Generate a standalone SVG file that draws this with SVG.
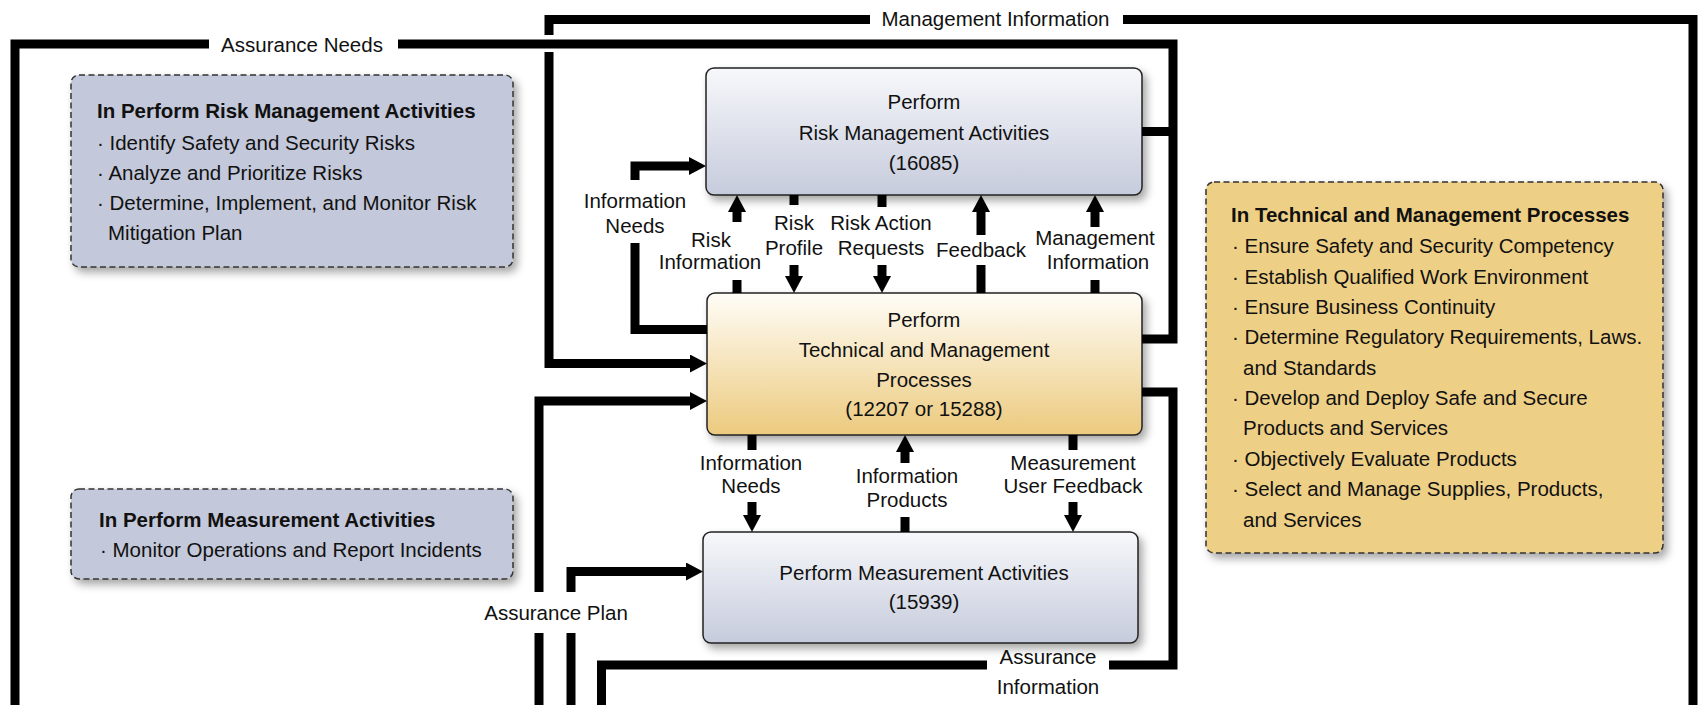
<svg xmlns="http://www.w3.org/2000/svg" width="1702" height="705" viewBox="0 0 1702 705">
<style>
text{font-family:"Liberation Sans",Arial,sans-serif;font-size:20.5px;fill:#111}
.c{text-anchor:middle}
.b{font-weight:bold}
.ln{fill:none;stroke:#000;stroke-width:9;stroke-linejoin:miter;stroke-linecap:butt}
.box{stroke:#222;stroke-width:1.5}
.note{stroke:#333;stroke-width:1.5;stroke-dasharray:6 3.5}
</style>
<defs>
<linearGradient id="gBlue" x1="0" y1="0" x2="0" y2="1">
<stop offset="0" stop-color="#f7f8fb"/>
<stop offset="1" stop-color="#c6cbdc"/>
</linearGradient>
<linearGradient id="gGold" x1="0" y1="0" x2="0" y2="1">
<stop offset="0" stop-color="#fffdf7"/>
<stop offset="1" stop-color="#ecca7e"/>
</linearGradient>
<filter id="sh" x="-10%" y="-10%" width="125%" height="135%">
<feDropShadow dx="4" dy="5" stdDeviation="4" flood-color="#000" flood-opacity="0.35"/>
</filter>
<marker id="ah" markerUnits="userSpaceOnUse" markerWidth="18" markerHeight="18" refX="7" refY="9" orient="auto">
<path d="M0,0 L17,9 L0,18 Z" fill="#000"/>
</marker>
</defs>
<rect width="1702" height="705" fill="#fff"/>

<g id="note-risk">
<rect class="note" x="71" y="75" width="442" height="192" rx="8" fill="#c3c8da" filter="url(#sh)"/>
<text class="b" x="97" y="118">In Perform Risk Management Activities</text>
<text x="97" y="150">· Identify Safety and Security Risks</text>
<text x="97" y="180">· Analyze and Prioritize Risks</text>
<text x="97" y="210">· Determine, Implement, and Monitor Risk</text>
<text x="108" y="240">Mitigation Plan</text>
</g>

<g id="note-meas">
<rect class="note" x="71" y="489" width="442" height="90" rx="8" fill="#c3c8da" filter="url(#sh)"/>
<text class="b" x="99" y="527">In Perform Measurement Activities</text>
<text x="100" y="557">· Monitor Operations and Report Incidents</text>
</g>

<g id="note-tech">
<rect class="note" x="1206" y="182" width="457" height="371" rx="8" fill="#eecf86" filter="url(#sh)"/>
<text class="b" x="1231" y="222">In Technical and Management Processes</text>
<text x="1232" y="253">· Ensure Safety and Security Competency</text>
<text x="1232" y="283.5">· Establish Qualified Work Environment</text>
<text x="1232" y="314">· Ensure Business Continuity</text>
<text x="1232" y="344">· Determine Regulatory Requirements, Laws.</text>
<text x="1243" y="374.5">and Standards</text>
<text x="1232" y="405">· Develop and Deploy Safe and Secure</text>
<text x="1243" y="435">Products and Services</text>
<text x="1232" y="466">· Objectively Evaluate Products</text>
<text x="1232" y="496">· Select and Manage Supplies, Products,</text>
<text x="1243" y="526.5">and Services</text>
</g>

<g id="node-risk">
<rect class="box" x="706" y="68" width="436" height="127" rx="8" fill="url(#gBlue)" filter="url(#sh)"/>
<text class="c" x="924" y="109">Perform</text>
<text class="c" x="924" y="140">Risk Management Activities</text>
<text class="c" x="924" y="170">(16085)</text>
</g>

<g id="node-tech">
<rect class="box" x="707" y="293" width="435" height="142" rx="8" fill="url(#gGold)" filter="url(#sh)"/>
<text class="c" x="924" y="327">Perform</text>
<text class="c" x="924" y="357">Technical and Management</text>
<text class="c" x="924" y="387">Processes</text>
<text class="c" x="924" y="416">(12207 or 15288)</text>
</g>

<g id="node-meas">
<rect class="box" x="703" y="532" width="435" height="111" rx="8" fill="url(#gBlue)" filter="url(#sh)"/>
<text class="c" x="924" y="580">Perform Measurement Activities</text>
<text class="c" x="924" y="609">(15939)</text>
</g>

<g id="connectors">
<!-- Assurance Needs -->
<path class="ln" d="M1142,339 H1173 V44 H398"/>
<path class="ln" d="M209,44 H15 V705"/>
<path class="ln" d="M1142,131.5 H1173"/>
<text class="c" x="302" y="52">Assurance Needs</text>
<!-- Management Information (top) -->
<path class="ln" d="M1693,705 V19.5 H1123"/>
<path class="ln" d="M870,19.5 H549 V35"/>
<path class="ln" d="M549,52 V363.5 H697" marker-end="url(#ah)"/>
<text class="c" x="995.5" y="26">Management Information</text>
<!-- Assurance Information -->
<path class="ln" d="M1142,392 H1173 V665 H1109"/>
<path class="ln" d="M987,665 H601.5 V705"/>
<text class="c" x="1048" y="664">Assurance</text>
<text class="c" x="1048" y="694">Information</text>
<!-- Assurance Plan -->
<path class="ln" d="M539,705 V633"/>
<path class="ln" d="M539,592 V401 H697" marker-end="url(#ah)"/>
<path class="ln" d="M571,705 V633"/>
<path class="ln" d="M571,592 V571.5 H693" marker-end="url(#ah)"/>
<text class="c" x="556" y="620">Assurance Plan</text>
<!-- Information Needs (to Risk) -->
<path class="ln" d="M707,329.5 H635 V243"/>
<path class="ln" d="M635,180 V166 H696" marker-end="url(#ah)"/>
<text class="c" x="635" y="208">Information</text>
<text class="c" x="635" y="233">Needs</text>
<!-- Risk Information -->
<path class="ln" d="M737,293 V280"/>
<path class="ln" d="M737,222 V205" marker-end="url(#ah)"/>
<text class="c" x="711" y="247">Risk</text>
<text class="c" x="710" y="269">Information</text>
<!-- Risk Profile -->
<path class="ln" d="M794,195 V205"/>
<path class="ln" d="M794,265 V283" marker-end="url(#ah)"/>
<text class="c" x="794" y="230">Risk</text>
<text class="c" x="794" y="255">Profile</text>
<!-- Risk Action Requests -->
<path class="ln" d="M882,195 V207"/>
<path class="ln" d="M882,265 V283" marker-end="url(#ah)"/>
<text class="c" x="881" y="230">Risk Action</text>
<text class="c" x="881" y="255">Requests</text>
<!-- Feedback -->
<path class="ln" d="M981,293 V265"/>
<path class="ln" d="M981,235 V205" marker-end="url(#ah)"/>
<text class="c" x="981" y="257">Feedback</text>
<!-- Management Information (Tech to Risk) -->
<path class="ln" d="M1095,293 V280"/>
<path class="ln" d="M1095,227 V205" marker-end="url(#ah)"/>
<text class="c" x="1095" y="245">Management</text>
<text class="c" x="1098" y="269">Information</text>
<!-- Information Needs (Tech to Meas) -->
<path class="ln" d="M752,435 V450"/>
<path class="ln" d="M752,502 V522" marker-end="url(#ah)"/>
<text class="c" x="751" y="470">Information</text>
<text class="c" x="751" y="493">Needs</text>
<!-- Information Products -->
<path class="ln" d="M905,532 V517"/>
<path class="ln" d="M905,463 V445" marker-end="url(#ah)"/>
<text class="c" x="907" y="483">Information</text>
<text class="c" x="907" y="507">Products</text>
<!-- Measurement User Feedback -->
<path class="ln" d="M1073,435 V450"/>
<path class="ln" d="M1073,502 V522" marker-end="url(#ah)"/>
<text class="c" x="1073" y="470">Measurement</text>
<text class="c" x="1073" y="493">User Feedback</text>
</g>
</svg>
